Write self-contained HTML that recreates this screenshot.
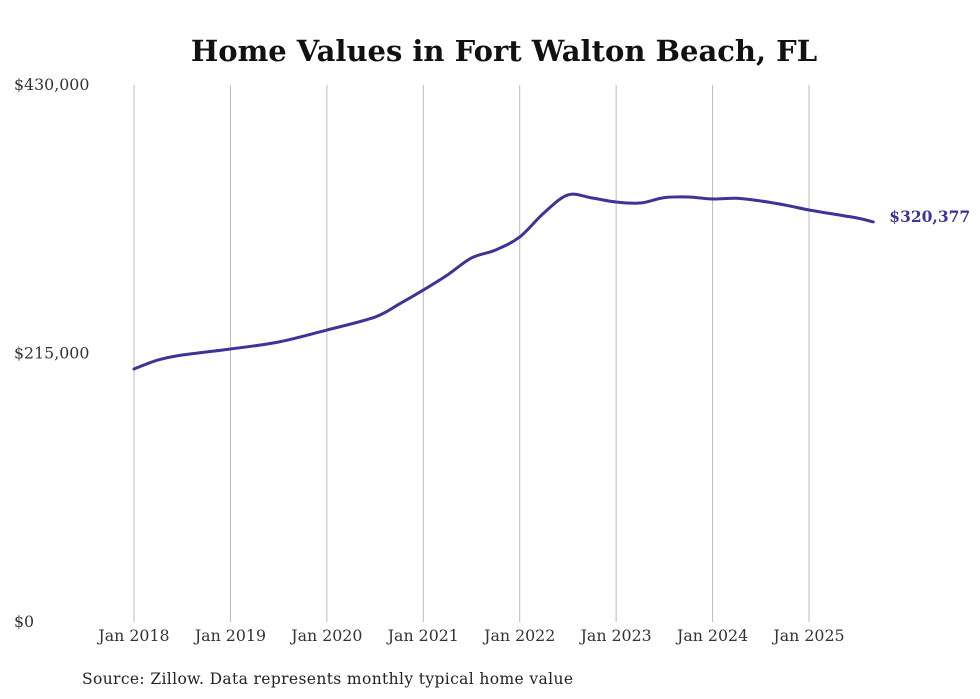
<!DOCTYPE html>
<html><head><meta charset="utf-8"><style>
html,body{margin:0;padding:0;background:#fff;}
svg{display:block;}
text{font-family:"DejaVu Serif","Liberation Serif",serif;}
</style></head><body>
<svg id="chart" width="980" height="699" viewBox="0 0 980 699">
<text x="504" y="61" text-anchor="middle" font-size="29" font-weight="bold" fill="#111">Home Values in Fort Walton Beach, FL</text>
<g id="grid"></g>
<g id="yaxis"></g>
<g id="xaxis"></g>
<g id="series"></g>
<text x="82" y="684" font-size="15.5" fill="#222" textLength="491">Source: Zillow. Data represents monthly typical home value</text>
</svg>
<script>
const months = [0,3,6,12,18,24,30,33,36,39,42,45,48,51,54,57,60,63,66,69,72,75,78,81,84,87,90,92];
const values = [202600,209800,213800,218600,224200,233800,244200,254600,265800,277900,291500,297900,308300,327500,342000,339500,336300,335500,339800,340300,338700,339300,337100,333900,329900,326700,323500,320377];
const xTickLabels = ["Jan 2018","Jan 2019","Jan 2020","Jan 2021","Jan 2022","Jan 2023","Jan 2024","Jan 2025"];
const xTickMonths = [0,12,24,36,48,60,72,84];
const yTickValues = [0,215000,430000];
const yTickLabels = ["$0","$215,000","$430,000"];
const endLabel = "$320,377";

const NS="http://www.w3.org/2000/svg";
const x = m => 134 + m*(809-134)/84;
const y = v => 622 - v/430000*537;
function mk(tag, attrs, parent){const e=document.createElementNS(NS,tag);for(const k in attrs)e.setAttribute(k,attrs[k]);parent.appendChild(e);return e;}
const grid=document.getElementById('grid'), xa=document.getElementById('xaxis'), ya=document.getElementById('yaxis'), se=document.getElementById('series');
xTickMonths.forEach((m,i)=>{
  const l=mk('line',{x1:x(m),x2:x(m),y1:85,y2:622,stroke:'#bbb','stroke-width':1},grid);
  
  
  const t=mk('text',{x:x(m),y:641,'text-anchor':'middle','font-size':15.8,fill:'#333'},xa);
  t.textContent=xTickLabels[i];
  
  
});
yTickValues.forEach((v,i)=>{
  const t=mk('text',{x:14,y:y(v)+5,'font-size':15.8,fill:'#333'},ya);
  t.textContent=yTickLabels[i];
  
  
});
const pts=months.map((m,i)=>[x(m),y(values[i])]);
let d=`M${pts[0][0]},${pts[0][1]}`;
for(let i=0;i<pts.length-1;i++){
  const p0=pts[i-1]||pts[i],p1=pts[i],p2=pts[i+1],p3=pts[i+2]||p2;
  const c1=[p1[0]+(p2[0]-p0[0])/6,p1[1]+(p2[1]-p0[1])/6];
  const c2=[p2[0]-(p3[0]-p1[0])/6,p2[1]-(p3[1]-p1[1])/6];
  d+=` C${c1[0]},${c1[1]} ${c2[0]},${c2[1]} ${p2[0]},${p2[1]}`;
}
const path=mk('path',{d:d,fill:'none',stroke:'#3c3597','stroke-width':3,'stroke-linecap':'round','stroke-linejoin':'round'},se);


const last=pts[pts.length-1];
const lbl=mk('text',{x:last[0]+16,y:last[1]+0,'font-size':15.5,'font-weight':'bold',fill:'#3c3597'},se);
lbl.textContent=endLabel;


</script>
</body></html>
